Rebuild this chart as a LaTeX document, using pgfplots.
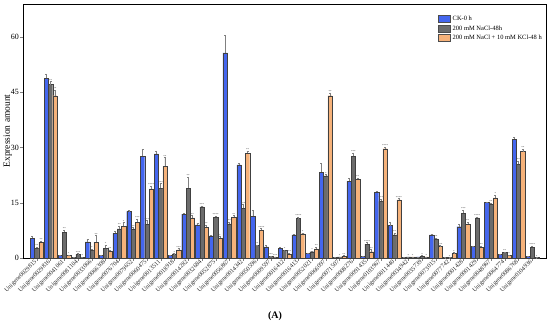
\documentclass[border=0pt]{standalone}
\usepackage{pgfplots}
\usepackage{pgfplotstable}
\usepackage{fontspec}
\setmainfont{Liberation Serif}
\pgfplotsset{compat=1.18}
\definecolor{cblue}{RGB}{68,102,238}
\definecolor{cgray}{RGB}{108,108,108}
\definecolor{corange}{RGB}{246,178,122}
\pgfplotstableread{
x b be g ge o oe gs os
0 5.4 0.4 2.6 0.3 4.3 0.4 ** **
1 48.8 1.2 47.1 0.8 44.1 1.5 ** **
2 0.7 0.1 7.0 0.6 0.8 0.1 ** *
3 0.1 0.05 1.0 0.2 0.2 0.05 *** *
4 4.4 0.6 2.1 0.3 4.3 1.8 * **
5 0.7 0.1 2.6 0.9 1.9 0.3 * **
6 6.7 0.5 7.9 0.7 8.6 1.0 ** *
7 12.7 0.2 7.9 0.4 9.7 0.9 ** ***
8 27.7 1.8 9.2 1.0 18.8 0.8 *** ****
9 28.3 0.8 19.0 1.2 24.9 2.4 *** **
10 0.8 0.1 1.1 0.1 2.2 0.4 * ***
11 11.9 0.2 19.0 3.0 10.9 0.6 ** **
12 9.0 0.5 13.9 0.3 8.4 0.5 *** **
13 6.0 0.2 11.1 0.3 5.3 0.5 **** *
14 55.7 4.8 9.3 0.5 11.1 0.4 ** **
15 25.3 0.4 13.5 1.0 28.5 0.6 *** **
16 11.4 1.7 3.4 0.2 7.5 0.5 ** ****
17 3.0 0.5 0.5 0.05 0.3 0.05 *** ***
18 2.7 0.3 2.0 0.2 1.1 0.2 * ***
19 6.3 0.2 10.7 0.5 6.6 0.2 **** *
20 1.3 0.1 1.7 0.2 2.5 0.4 * **
21 23.3 2.5 22.3 0.4 44.1 0.8 * **
22 0.2 0.05 0.3 0.05 0.5 0.2 * **
23 20.8 0.8 27.6 1.0 21.4 0.4 *** **
24 0.5 0.1 3.8 0.4 1.7 0.6 **** **
25 17.9 0.2 15.4 0.6 29.7 0.4 *** ****
26 8.8 0.8 6.3 0.5 15.8 0.4 ** ****
27 0.2 0.05 0.3 0.05 0.3 0.05 * *
28 0.3 0.05 0.5 0.2 0.3 0.05 * *
29 6.3 0.2 5.2 0.3 3.1 0.3 ** ***
30 0.1 0.02 0.1 0.02 1.2 0.3 * *
31 8.5 0.6 12.2 0.8 9.2 0.5 *** **
32 3.2 0.1 10.9 0.3 2.9 0.4 **** **
33 15.1 0.2 14.6 0.4 16.3 0.8 ** *
34 1.0 0.1 1.5 0.2 0.7 0.1 ** *
35 32.3 0.5 25.5 0.9 28.9 0.7 ** **
36 0.4 0.1 2.9 0.4 0.1 0.02 **** *
}\datatable
\begin{document}
\begin{tikzpicture}
\useasboundingbox (-23bp,-68bp) rectangle (527bp,258bp);
\begin{axis}[
  at={(0,0)}, anchor=south west,
  scale only axis, width=523bp, height=254bp,
  ybar=0pt, bar width=4.3bp,
  xmin=-1, xmax=37, ymin=0, ymax=69,
  ytick={0,15,30,45,60},
  xtick={0,...,36},
  xticklabels={Unigene0029815,Unigene0029816,Unigene0041061,Unigene0081104,Unigene0033066,Unigene0066308,Unigene0076704,Unigene0079652,Unigene0060475,Unigene0013511,Unigene0018918,Unigene0014282,Unigene0032684,Unigene0052875,Unigene0056867,Unigene0014342,Unigene0050596,Unigene0009597,Unigene0016412,Unigene0016413,Unigene0052021,Unigene0066097,Unigene0071507,Unigene0008276,Unigene0091435,Unigene0103967,Unigene0011440,Unigene0034942,Unigene0035739,Unigene0073015,Unigene0077742,Unigene0001428,Unigene0001429,Unigene0048967,Unigene0064774,Unigene0086768,Unigene0104936},
  xticklabel style={rotate=45, anchor=east, font=\fontsize{6.2}{7}\selectfont, inner sep=1pt, text=black!85},
  yticklabel style={font=\fontsize{8}{9}\selectfont, inner sep=1.5pt},
  /pgf/number format/assume math mode=true,
  tick align=outside, tick pos=left,
  major tick length=2.5bp,
  ylabel={Expression amount},
  ylabel style={font=\fontsize{9.5}{10}\selectfont, at={(axis description cs:-0.029,0.5)}, anchor=center},
  axis line style={line width=0.6pt},
  legend style={at={(0.792,0.965)}, anchor=north west, draw=none, fill=none,
    font=\fontsize{6.5}{7.5}\selectfont, row sep=-0.5pt, inner sep=1pt},
  legend cell align=left,
  legend image code/.code={\draw[#1, draw=black!70] (0bp,-3.5bp) rectangle (12bp,3.5bp);},
  error bars/y dir=plus, error bars/y explicit,
  error bars/error bar style={black!50, line width=0.35pt},
  error bars/error mark options={rotate=90, mark size=1pt, black!50, line width=0.35pt},
  every node near coord/.append style={font=\fontsize{3}{3}\selectfont, inner sep=0.2pt, text=black!70},
]
\addplot[fill=cblue, draw=black!75, line width=0.3pt] table[x=x, y=b, y error=be] {\datatable};
\addplot[fill=cgray, draw=black!75, line width=0.3pt,
  nodes near coords={\pgfplotspointmeta}, point meta=explicit symbolic,
  visualization depends on={\thisrow{ge} \as \myerr},
  every node near coord/.append style={yshift=\myerr*3.68bp}]
  table[x=x, y=g, y error=ge, meta=gs] {\datatable};
\addplot[fill=corange, draw=black!75, line width=0.3pt,
  nodes near coords={\pgfplotspointmeta}, point meta=explicit symbolic,
  visualization depends on={\thisrow{oe} \as \myerr},
  every node near coord/.append style={yshift=\myerr*3.68bp}]
  table[x=x, y=o, y error=oe, meta=os] {\datatable};
\legend{CK-0 h, 200 mM NaCl-48h, 200 mM NaCl + 10 mM KCl-48 h}
\end{axis}
\node[font=\bfseries\fontsize{10}{11}\selectfont] at (252bp,-58bp) {(A)};
\end{tikzpicture}
\end{document}
